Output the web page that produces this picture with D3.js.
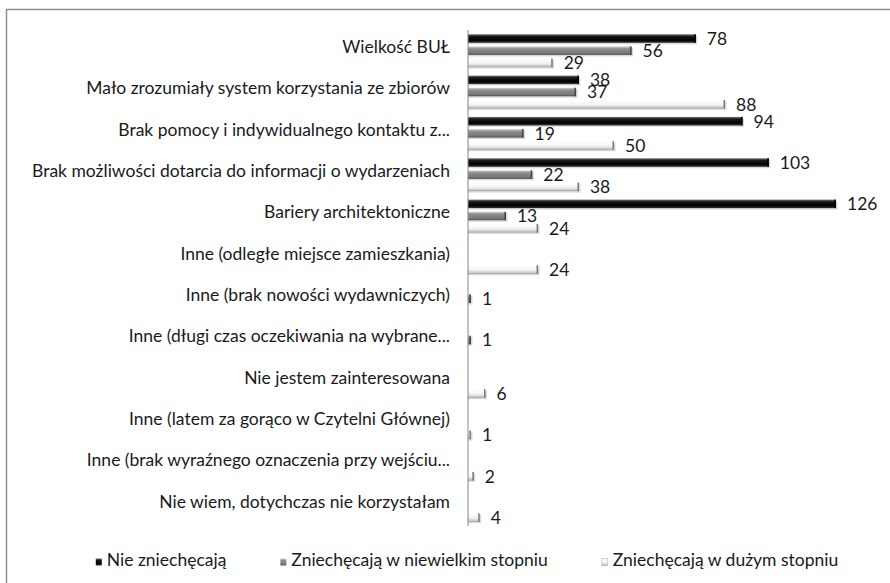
<!DOCTYPE html>
<html>
<head>
<meta charset="utf-8">
<script src="https://cdn.jsdelivr.net/npm/d3@7"></script>
<style>
  body { margin: 0; background: #fff; }
  svg text { font-family: Lato, "Open Sans", sans-serif; fill: #1a1a1a; }
</style>
</head>
<body>
<script>
const w = 890;
const h = 583;

// chart data
const categories = [
  "Wielkość BUŁ",
  "Mało zrozumiały system korzystania ze zbiorów",
  "Brak pomocy i indywidualnego kontaktu z...",
  "Brak możliwości dotarcia do informacji o wydarzeniach",
  "Bariery architektoniczne",
  "Inne (odległe miejsce zamieszkania)",
  "Inne (brak nowości wydawniczych)",
  "Inne (długi czas oczekiwania na wybrane...",
  "Nie jestem zainteresowana",
  "Inne (latem za gorąco w Czytelni Głównej)",
  "Inne (brak wyraźnego oznaczenia przy wejściu...",
  "Nie wiem, dotychczas nie korzystałam"
];
const seriesNames = ["Nie zniechęcają", "Zniechęcają w niewielkim stopniu", "Zniechęcają w dużym stopniu"];
const nieZniechecaja = [78, 38, 94, 103, 126, null, null, null, null, null, null, null];
const wNiewielkim   = [56, 37, 19, 22, 13, null, 1, 1, null, null, null, null];
const wDuzym        = [29, 88, 50, 38, 24, 24, null, null, 6, 1, 2, 4];
const seriesValues = [nieZniechecaja, wNiewielkim, wDuzym];

const fontSize = 17.5;

let svg = d3.select("body")
    .append("svg")
    .attr("width", w)
    .attr("height", h);

// gradients for the bevelled bars
const defs = svg.append("defs");
const grads = [
  ["g0", [["0%", "#777"], ["25%", "#1a1a1a"], ["70%", "#000"], ["100%", "#333"]]],
  ["g1", [["0%", "#d0d0d0"], ["30%", "#8c8c8c"], ["75%", "#7a7a7a"], ["100%", "#555"]]],
  ["g2", [["0%", "#ffffff"], ["55%", "#f4f4f4"], ["85%", "#cfcfcf"], ["100%", "#999"]]]
];
grads.forEach(([id, stops]) => {
  let g = defs.append("linearGradient").attr("id", id)
      .attr("x1", 0).attr("y1", 0).attr("x2", 0).attr("y2", 1);
  stops.forEach(s => g.append("stop").attr("offset", s[0]).attr("stop-color", s[1]));
});
const capColor = ["#000", "#444", "#777"];

// outer border
svg.append("rect")
    .attr("x", 6.5).attr("y", 9.5)
    .attr("width", w + 20).attr("height", h + 20)
    .attr("fill", "none")
    .attr("stroke", "#8c8c8c")
    .attr("stroke-width", 1.5);

const x = d3.scaleLinear()
    .domain([0, 126])
    .range([468, 836]);

const y = d3.scaleBand()
    .domain(categories)
    .range([30, 526]);

const y1 = d3.scaleBand()
    .domain([0, 1, 2])
    .range([0, y.bandwidth()])
    .paddingInner(0.3)
    .paddingOuter(0.35);

// category labels
svg.selectAll("text.cat")
    .data(categories)
    .enter()
    .append("text")
    .attr("class", "cat")
    .attr("x", 450)
    .attr("y", d => y(d) + y.bandwidth() / 2 - 2)
    .attr("text-anchor", "end")
    .attr("dominant-baseline", "middle")
    .style("font-size", fontSize + "px")
    .text(d => d);

// bars
seriesValues.forEach((vals, s) => {
  let pts = vals.map((v, i) => ({ cat: categories[i], v: v })).filter(d => d.v != null);
  let g = svg.append("g");
  // soft shadow
  g.selectAll("rect.sh")
      .data(pts)
      .enter()
      .append("rect")
      .attr("x", x(0))
      .attr("y", d => y(d.cat) + y1(s) + 1.5)
      .attr("width", d => x(d.v) - x(0) + 1.5)
      .attr("height", y1.bandwidth())
      .attr("fill", "#000")
      .attr("opacity", 0.15);
  g.selectAll("rect.bar")
      .data(pts)
      .enter()
      .append("rect")
      .attr("x", x(0))
      .attr("y", d => y(d.cat) + y1(s))
      .attr("width", d => x(d.v) - x(0))
      .attr("height", y1.bandwidth())
      .attr("fill", "url(#g" + s + ")");
  g.selectAll("rect.cap")
      .data(pts)
      .enter()
      .append("rect")
      .attr("x", d => x(d.v) - 1.5)
      .attr("y", d => y(d.cat) + y1(s))
      .attr("width", 1.5)
      .attr("height", y1.bandwidth())
      .attr("fill", capColor[s]);
  g.selectAll("text")
      .data(pts)
      .enter()
      .append("text")
      .attr("x", d => x(d.v) + 11)
      .attr("y", d => y(d.cat) + y1(s) + y1.bandwidth() / 2 + 2)
      .attr("dominant-baseline", "middle")
      .style("font-size", fontSize + "px")
      .text(d => d.v);
});

// axis line
svg.append("line")
    .attr("x1", x(0)).attr("x2", x(0))
    .attr("y1", 30).attr("y2", 526)
    .attr("stroke", "#868686")
    .attr("stroke-width", 1);

// legend
const legend = svg.append("g");
let lx = 0;
seriesNames.forEach((name, s) => {
  let item = legend.append("g").attr("transform", "translate(" + lx + ",0)");
  item.append("rect")
      .attr("x", 0).attr("y", -3.5)
      .attr("width", 6).attr("height", 7)
      .attr("fill", "url(#g" + s + ")")
      .attr("stroke", s == 2 ? "#aaa" : "none")
      .attr("stroke-width", 0.5);
  let t = item.append("text")
      .attr("x", 11)
      .attr("y", 0)
      .attr("dominant-baseline", "middle")
      .style("font-size", fontSize + "px")
      .text(name);
  lx += 11 + t.node().getComputedTextLength() + 54;
});
lx -= 54;
legend.attr("transform", "translate(" + (467 - lx / 2) + ",562)");
</script>
</body>
</html>
